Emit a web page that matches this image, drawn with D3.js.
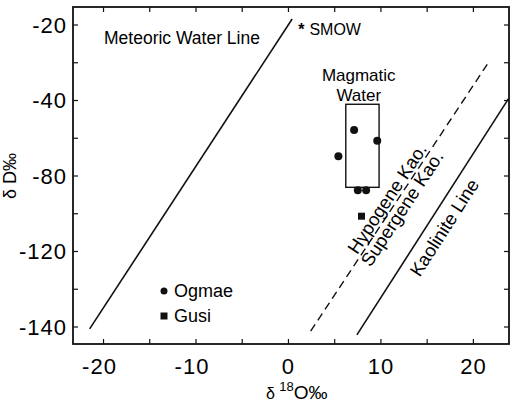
<!DOCTYPE html>
<html>
<head>
<meta charset="utf-8">
<script src="https://cdn.jsdelivr.net/npm/d3@7"></script>
<style>
    body { margin: 0; background: #fff; }
    svg { display: block; font-family: "Liberation Sans", Arial, Helvetica, sans-serif; }
</style>
</head>
<body>
<div id="chart"></div>
<script>
// values
var xTicks = [-20, -15, -10, -5, 0, 5, 10, 15, 20];
var xTickLabels = [-20, -10, 0, 10, 20];
var yTicks = [-20, -40, -80, -120, -140];
var yMinorTicks = [-30, -60, -100, -130];

var ogmaeX = [7.1, 5.4, 9.6, 7.5, 8.4];
var ogmaeY = [-55.6, -69.6, -61.3, -87.5, -87.5];
var gusiX = [7.9];
var gusiY = [-101.3];
var smow = [1.4, -20.8];

var magmaticBoxX = [6.2, 9.8];
var magmaticBoxY = [-42, -86];

var meteoricLine = [[-21.5, -140.5], [0.4, -18.4]];
var hypogeneLine = [[2.4, -141.1], [21.8, -29.3]];
var kaoliniteLine = [[7.4, -142.1], [23.8, -39.5]];

var W = 518, H = 404;
var plotLeft = 73, plotRight = 509, plotTop = 7, plotBottom = 344;
var tickStep = 75.5, firstTick = 25;

var svg = d3.select('#chart').append('svg')
    .attr('width', W)
    .attr('height', H);

var x = d3.scaleLinear().domain([-23.3, 23.85]).range([plotLeft, plotRight]);
// the printed labels are not evenly spaced in value, so map each one to its own tick position
var y = d3.scaleLinear()
    .domain(yTicks)
    .range(yTicks.map(function(d, i) { return firstTick + i * tickStep; }));

var black = '#111';

// frame
svg.append('rect')
    .attr('x', plotLeft).attr('y', plotTop)
    .attr('width', plotRight - plotLeft).attr('height', plotBottom - plotTop)
    .attr('fill', 'none').attr('stroke', black).attr('stroke-width', 1.8);

// ticks, all pointing inward
var tl = 5;
var g = svg.append('g').attr('stroke', black).attr('stroke-width', 1.2);
xTicks.forEach(function(d) {
    g.append('line').attr('x1', x(d)).attr('x2', x(d)).attr('y1', plotBottom).attr('y2', plotBottom - tl);
    g.append('line').attr('x1', x(d)).attr('x2', x(d)).attr('y1', plotTop).attr('y2', plotTop + tl);
});
yTicks.concat(yMinorTicks).forEach(function(d) {
    g.append('line').attr('x1', plotLeft).attr('x2', plotLeft + tl).attr('y1', y(d)).attr('y2', y(d));
    g.append('line').attr('x1', plotRight).attr('x2', plotRight - tl).attr('y1', y(d)).attr('y2', y(d));
});

svg.selectAll('.xlab').data(xTickLabels).enter().append('text')
    .attr('class', 'xlab')
    .attr('x', function(d) { return x(d) - (d < 0 ? 4 : 0); })
    .attr('y', 374)
    .attr('text-anchor', 'middle')
    .attr('font-size', 22)
    .attr('letter-spacing', 1)
    .text(function(d) { return d < 0 ? '-' + Math.abs(d) : d; });

svg.selectAll('.ylab').data(yTicks).enter().append('text')
    .attr('class', 'ylab')
    .attr('x', plotLeft - 6)
    .attr('y', function(d) { return y(d); })
    .attr('dy', '0.36em')
    .attr('text-anchor', 'end')
    .attr('font-size', 22)
    .attr('letter-spacing', 1)
    .text(function(d) { return '-' + Math.abs(d); });

// axis titles
var xt = svg.append('text')
    .attr('x', 266).attr('y', 399)
    .attr('font-size', 19);
xt.append('tspan').attr('font-size', 16).text('δ ');
xt.append('tspan').attr('font-size', 13).attr('dy', -8).text('18');
xt.append('tspan').attr('dy', 8).text('O‰');

svg.append('text')
    .attr('transform', 'translate(16,176) rotate(-90)')
    .attr('text-anchor', 'middle')
    .attr('font-size', 18)
    .text('δ D‰');

// lines
var line = d3.line()
    .x(function(d) { return x(d[0]); })
    .y(function(d) { return y(d[1]); });

svg.append('path').datum(meteoricLine).attr('d', line)
    .attr('fill', 'none').attr('stroke', black).attr('stroke-width', 1.6);
svg.append('path').datum(hypogeneLine).attr('d', line)
    .attr('fill', 'none').attr('stroke', black).attr('stroke-width', 1.4)
    .attr('stroke-dasharray', '8,5');
svg.append('path').datum(kaoliniteLine).attr('d', line)
    .attr('fill', 'none').attr('stroke', black).attr('stroke-width', 1.6);

// magmatic water box
svg.append('rect')
    .attr('x', x(magmaticBoxX[0]))
    .attr('y', y(magmaticBoxY[0]))
    .attr('width', x(magmaticBoxX[1]) - x(magmaticBoxX[0]))
    .attr('height', y(magmaticBoxY[1]) - y(magmaticBoxY[0]))
    .attr('fill', 'none').attr('stroke', black).attr('stroke-width', 1.4);

// points
svg.selectAll('.ogmae').data(ogmaeX).enter().append('circle')
    .attr('class', 'ogmae')
    .attr('cx', function(d) { return x(d); })
    .attr('cy', function(d, i) { return y(ogmaeY[i]); })
    .attr('r', 4)
    .attr('fill', black);

svg.selectAll('.gusi').data(gusiX).enter().append('rect')
    .attr('class', 'gusi')
    .attr('x', function(d) { return x(d) - 3.5; })
    .attr('y', function(d, i) { return y(gusiY[i]) - 3.5; })
    .attr('width', 7).attr('height', 7)
    .attr('fill', black);

svg.append('text')
    .attr('x', x(smow[0])).attr('y', y(smow[1]))
    .attr('dy', '0.45em')
    .attr('text-anchor', 'middle')
    .attr('font-size', 16)
    .attr('font-weight', 'bold')
    .text('*');

// labels
function label(tx, ty, str, size) {
    return svg.append('text')
        .attr('x', tx).attr('y', ty)
        .attr('font-size', size || 18)
        .text(str);
}
label(104, 44, 'Meteoric Water Line', 17.5);
label(x(smow[0]) + 8, 35, 'SMOW', 16);
label(x(7.6), 81, 'Magmatic', 17).attr('text-anchor', 'middle');
label(x(7.6), 101, 'Water', 17).attr('text-anchor', 'middle');

function lineLabel(pts, t, off, str) {
    var x1 = x(pts[0][0]), y1 = y(pts[0][1]);
    var x2 = x(pts[1][0]), y2 = y(pts[1][1]);
    var px = x1 + t * (x2 - x1), py = y1 + t * (y2 - y1);
    var ang = Math.atan2(y2 - y1, x2 - x1) * 180 / Math.PI;
    svg.append('text')
        .attr('transform', 'translate(' + px + ',' + py + ') rotate(' + ang + ')')
        .attr('text-anchor', 'middle')
        .attr('dy', off)
        .attr('font-size', 18.5)
        .text(str);
}
lineLabel(hypogeneLine, 0.47, -3, 'Hypogene Kao.');
lineLabel(hypogeneLine, 0.47, 15, 'Supergene Kao.');
lineLabel(kaoliniteLine, 0.49, 22, 'Kaolinite Line');

// legend
svg.append('circle').attr('cx', 164).attr('cy', 291).attr('r', 3.5).attr('fill', black);
label(174, 297, 'Ogmae');
svg.append('rect').attr('x', 160.5).attr('y', 312.5).attr('width', 7).attr('height', 7).attr('fill', black);
label(174, 322, 'Gusi');
</script>
</body>
</html>
